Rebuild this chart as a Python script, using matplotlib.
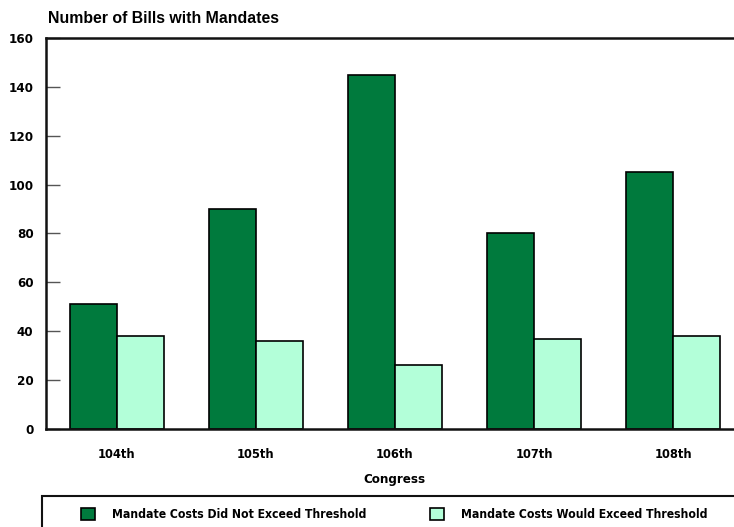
import numpy as np
import matplotlib.pyplot as plt
from matplotlib.patches import Rectangle

congresses = ['104th', '105th', '106th', '107th', '108th']
not_exceed = [51, 90, 145, 80, 105]
would_exceed = [38, 36, 26, 37, 38]
labels = ['Mandate Costs Did Not Exceed Threshold', 'Mandate Costs Would Exceed Threshold']

dark_green = '#007a3d'
light_green = '#b3ffd9'

plt.rcParams['font.family'] = ['DejaVu Sans']
plt.rcParams['font.stretch'] = 'condensed'
plt.rcParams['font.weight'] = 'bold'
plt.rcParams['axes.labelweight'] = 'bold'

fig = plt.figure(figsize=(7.34, 5.27), dpi=100)
ax = fig.add_axes([0.0627, 0.186, 0.949, 0.742])

x = np.arange(len(congresses))
w = 0.338
b1 = ax.bar(x - w / 2, not_exceed, w, color=dark_green, edgecolor='black', linewidth=1.2, label=labels[0])
b2 = ax.bar(x + w / 2, would_exceed, w, color=light_green, edgecolor='black', linewidth=1.2, label=labels[1])

ax.set_xlim(-0.51, 4.5)
ax.set_ylim(0, 160)
ax.set_yticks(range(0, 161, 20))
ax.set_xticks(x)
ax.set_xticklabels(congresses, fontsize=9.2)
ax.tick_params(axis='x', length=0, pad=14)
ax.tick_params(axis='y', direction='in', length=10, width=1, color='#555555', labelsize=9.5, pad=9)
ax.set_xlabel('Congress', fontsize=9.5, fontweight='bold', labelpad=8)

ax.spines['right'].set_visible(False)
for s in ['left', 'top', 'bottom']:
    ax.spines[s].set_linewidth(1.8)
    ax.spines[s].set_color('#111111')

fig.text(0.065, 0.965, 'Number of Bills with Mandates', fontsize=11.4, fontweight='bold',
         family='Liberation Sans', stretch='normal', va='center')

# legend box along the bottom
fig.patches.append(Rectangle((0.057, -0.05), 1.0, 0.109, transform=fig.transFigure,
                             fill=False, edgecolor='#111111', linewidth=1.5))
fig.legend(handles=[b1, b2], loc='center left', bbox_to_anchor=(0.104, 0.023), ncol=2,
           frameon=False, fontsize=8.7, handlelength=1.15, handleheight=1.15,
           handletextpad=1.4, columnspacing=5.3, borderaxespad=0)

fig.savefig('out.png', dpi=100)
